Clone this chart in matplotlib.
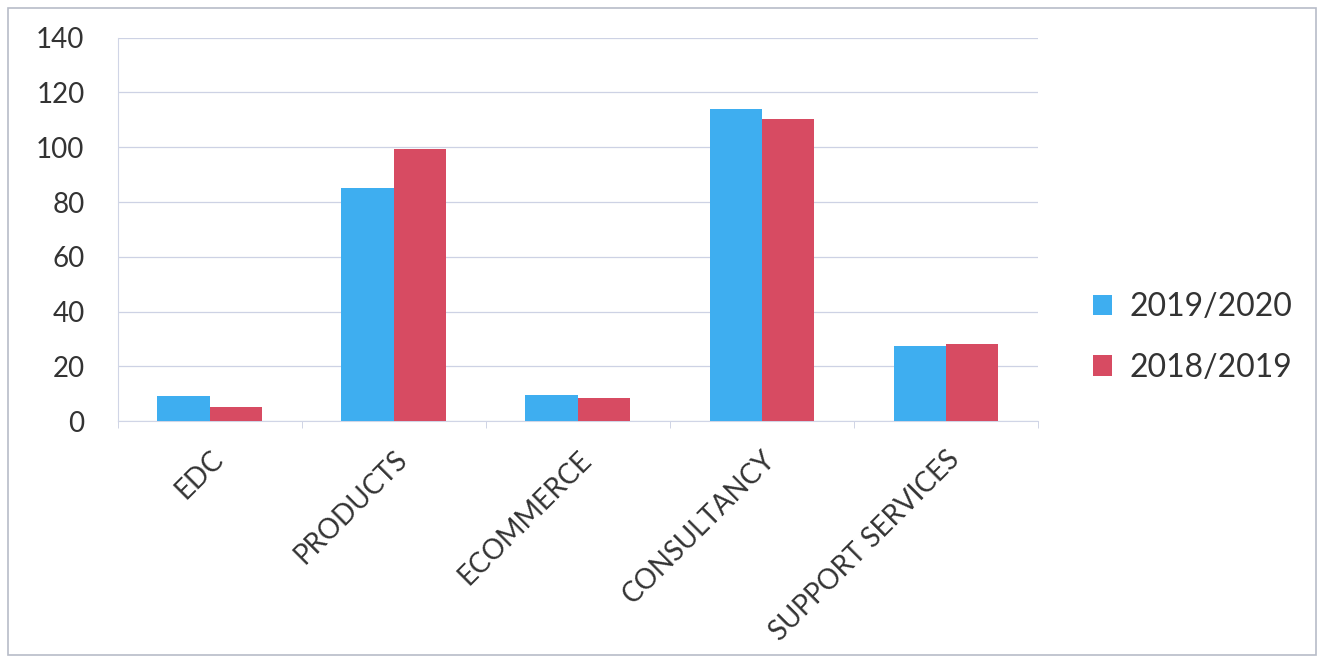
import matplotlib
matplotlib.use("Agg")
import matplotlib.pyplot as plt
import numpy as np
from matplotlib.patches import Rectangle

categories = ["EDC", "PRODUCTS", "ECOMMERCE", "CONSULTANCY", "SUPPORT SERVICES"]
series_names = ["2019/2020", "2018/2019"]
values_2019_2020 = [9, 85, 9.5, 114, 27.5]
values_2018_2019 = [5, 99.5, 8.5, 110.5, 28]
colors = ["#3eaef0", "#d74b62"]
yticks = [0, 20, 40, 60, 80, 100, 120, 140]

plt.rcParams['font.family'] = ['Lato', 'DejaVu Sans']

fig = plt.figure(figsize=(13.24, 6.62), dpi=100)
ax = fig.add_axes([0.089, 0.364, 0.695, 0.579])

x = np.arange(len(categories))
w = 0.285
ax.bar(x - w/2, values_2019_2020, width=w, color=colors[0], label=series_names[0], zorder=3)
ax.bar(x + w/2, values_2018_2019, width=w, color=colors[1], label=series_names[1], zorder=3)

ax.set_xlim(-0.5, len(categories) - 0.5)
ax.set_ylim(0, 140)
ax.set_yticks(yticks)
ax.set_yticklabels([str(t) for t in yticks], fontsize=20, color="#333333")
ax.yaxis.grid(True, color="#cdd2e4", linewidth=0.9, zorder=0)
ax.tick_params(axis='y', length=0, pad=24)

ax.set_xticks(x)
ax.set_xticklabels(categories, rotation=45, ha='right', rotation_mode='anchor',
                   fontsize=20, color="#333333")
ax.tick_params(axis='x', length=0, pad=18)
ax.set_xticks(np.arange(-0.5, len(categories), 1.0), minor=True)
ax.tick_params(axis='x', which='minor', length=5, color="#c8cde0")

for s in ['top', 'right']:
    ax.spines[s].set_visible(False)
ax.spines['left'].set_color("#d0d5e6")
ax.spines['bottom'].set_color("#d0d5e6")

leg = fig.legend(loc='center left', bbox_to_anchor=(0.804, 0.49), frameon=False,
                 fontsize=23, handlelength=0.6, handleheight=0.6, handletextpad=0.55,
                 labelspacing=0.95, labelcolor="#333333")

fig.patches.append(Rectangle((0.006, 0.01), 0.988, 0.978, transform=fig.transFigure,
                             fill=False, edgecolor="#b8bcc8", linewidth=1.2))

fig.savefig("out.png", dpi=100)
